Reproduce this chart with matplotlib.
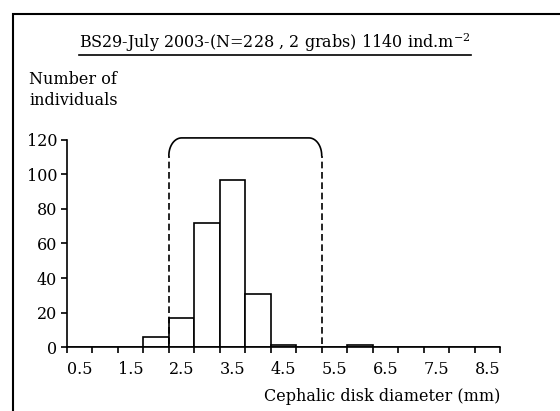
import numpy as np
import matplotlib
matplotlib.use('Agg')
import matplotlib.pyplot as plt
from matplotlib.patches import Rectangle
from matplotlib.lines import Line2D

plt.rcParams['font.family'] = ['DejaVu Serif']
plt.rcParams['mathtext.fontset'] = 'dejavuserif'

# size classes (mm), every 0.5 mm
classes = [0.5, 1.0, 1.5, 2.0, 2.5, 3.0, 3.5, 4.0, 4.5, 5.0, 5.5, 6.0, 6.5, 7.0, 7.5, 8.0, 8.5]
counts = [0, 0, 0, 6, 17, 72, 97, 31, 1, 0, 0, 1, 0, 0, 0, 0, 0]
tick_labels = ['0.5', '1.5', '2.5', '3.5', '4.5', '5.5', '6.5', '7.5', '8.5']
cohort = (2.5, 5.5)  # bracketed size range

title = 'BS29-July 2003-(N=228 , 2 grabs) 1140 ind.m$^{-2}$'
fs = 11.5

fig = plt.figure(figsize=(5.6, 4.11), dpi=100)
ax = fig.add_axes([0.1196, 0.1557, 0.7733, 0.5037])

pos = np.arange(len(classes)) + 0.5
ax.bar(pos, counts, width=1.0, color='white', edgecolor='black', linewidth=1.2)

ax.set_xlim(0, len(classes))
ax.set_ylim(0, 120)
ax.set_yticks(range(0, 121, 20))
ax.set_xticks(np.arange(len(classes) + 1))
ax.set_xticklabels([])
ax.set_xticks(pos[::2], minor=True)
ax.set_xticklabels(tick_labels, minor=True)
ax.tick_params(axis='x', which='minor', length=0, pad=10, labelsize=fs)
ax.tick_params(axis='x', which='major', length=4, width=1.2, direction='out')
ax.tick_params(axis='y', length=4, width=1.2, pad=3, labelsize=fs)
for s in ['top', 'right']:
    ax.spines[s].set_visible(False)
for s in ['left', 'bottom']:
    ax.spines[s].set_linewidth(1.2)

# bracket around the cohort: dashed sides, rounded solid top
xl = classes.index(cohort[0])
xr = classes.index(cohort[1])
y_bot, y_corner, y_top = 2, 111, 121.2
rx, ry = 0.5, y_top - y_corner
ax.plot([xl, xl], [y_bot, y_corner], color='black', lw=1.2, ls=(0, (4, 2.2)), clip_on=False)
ax.plot([xr, xr], [y_bot, y_corner], color='black', lw=1.2, ls=(0, (4, 2.2)), clip_on=False)
t = np.linspace(0, np.pi / 2, 20)
left_arc_x = xl + rx - rx * np.cos(t)
left_arc_y = y_corner + ry * np.sin(t)
right_arc_x = xr - rx + rx * np.cos(t[::-1])
right_arc_y = y_corner + ry * np.sin(t[::-1])
ax.plot(np.concatenate([left_arc_x, right_arc_x]),
        np.concatenate([left_arc_y, right_arc_y]),
        color='black', lw=1.2, clip_on=False)

ax.text(1.0, -0.2, 'Cephalic disk diameter (mm)', transform=ax.transAxes,
        ha='right', va='top', fontsize=fs)
fig.text(29 / 560, 1 - 80 / 411, 'Number of', ha='left', va='center', fontsize=fs)
fig.text(29 / 560, 1 - 100 / 411, 'individuals', ha='left', va='center', fontsize=fs)

ttl = fig.text(275 / 560, 1 - 43 / 411, title, ha='center', va='center', fontsize=fs)

# outer frame (extends beyond right/bottom edge)
fig.add_artist(Rectangle((12.5 / 560, -0.1), 1.2, 1.1 - 14.5 / 411,
                         transform=fig.transFigure, fill=False,
                         edgecolor='black', linewidth=1.5))

# underline title
fig.canvas.draw()
bb = ttl.get_window_extent().transformed(fig.transFigure.inverted())
fig.add_artist(Line2D([bb.x0, bb.x1], [bb.y0 - 0.002, bb.y0 - 0.002],
                      transform=fig.transFigure, color='black', lw=1.2))

fig.savefig('out.png', dpi=100)
